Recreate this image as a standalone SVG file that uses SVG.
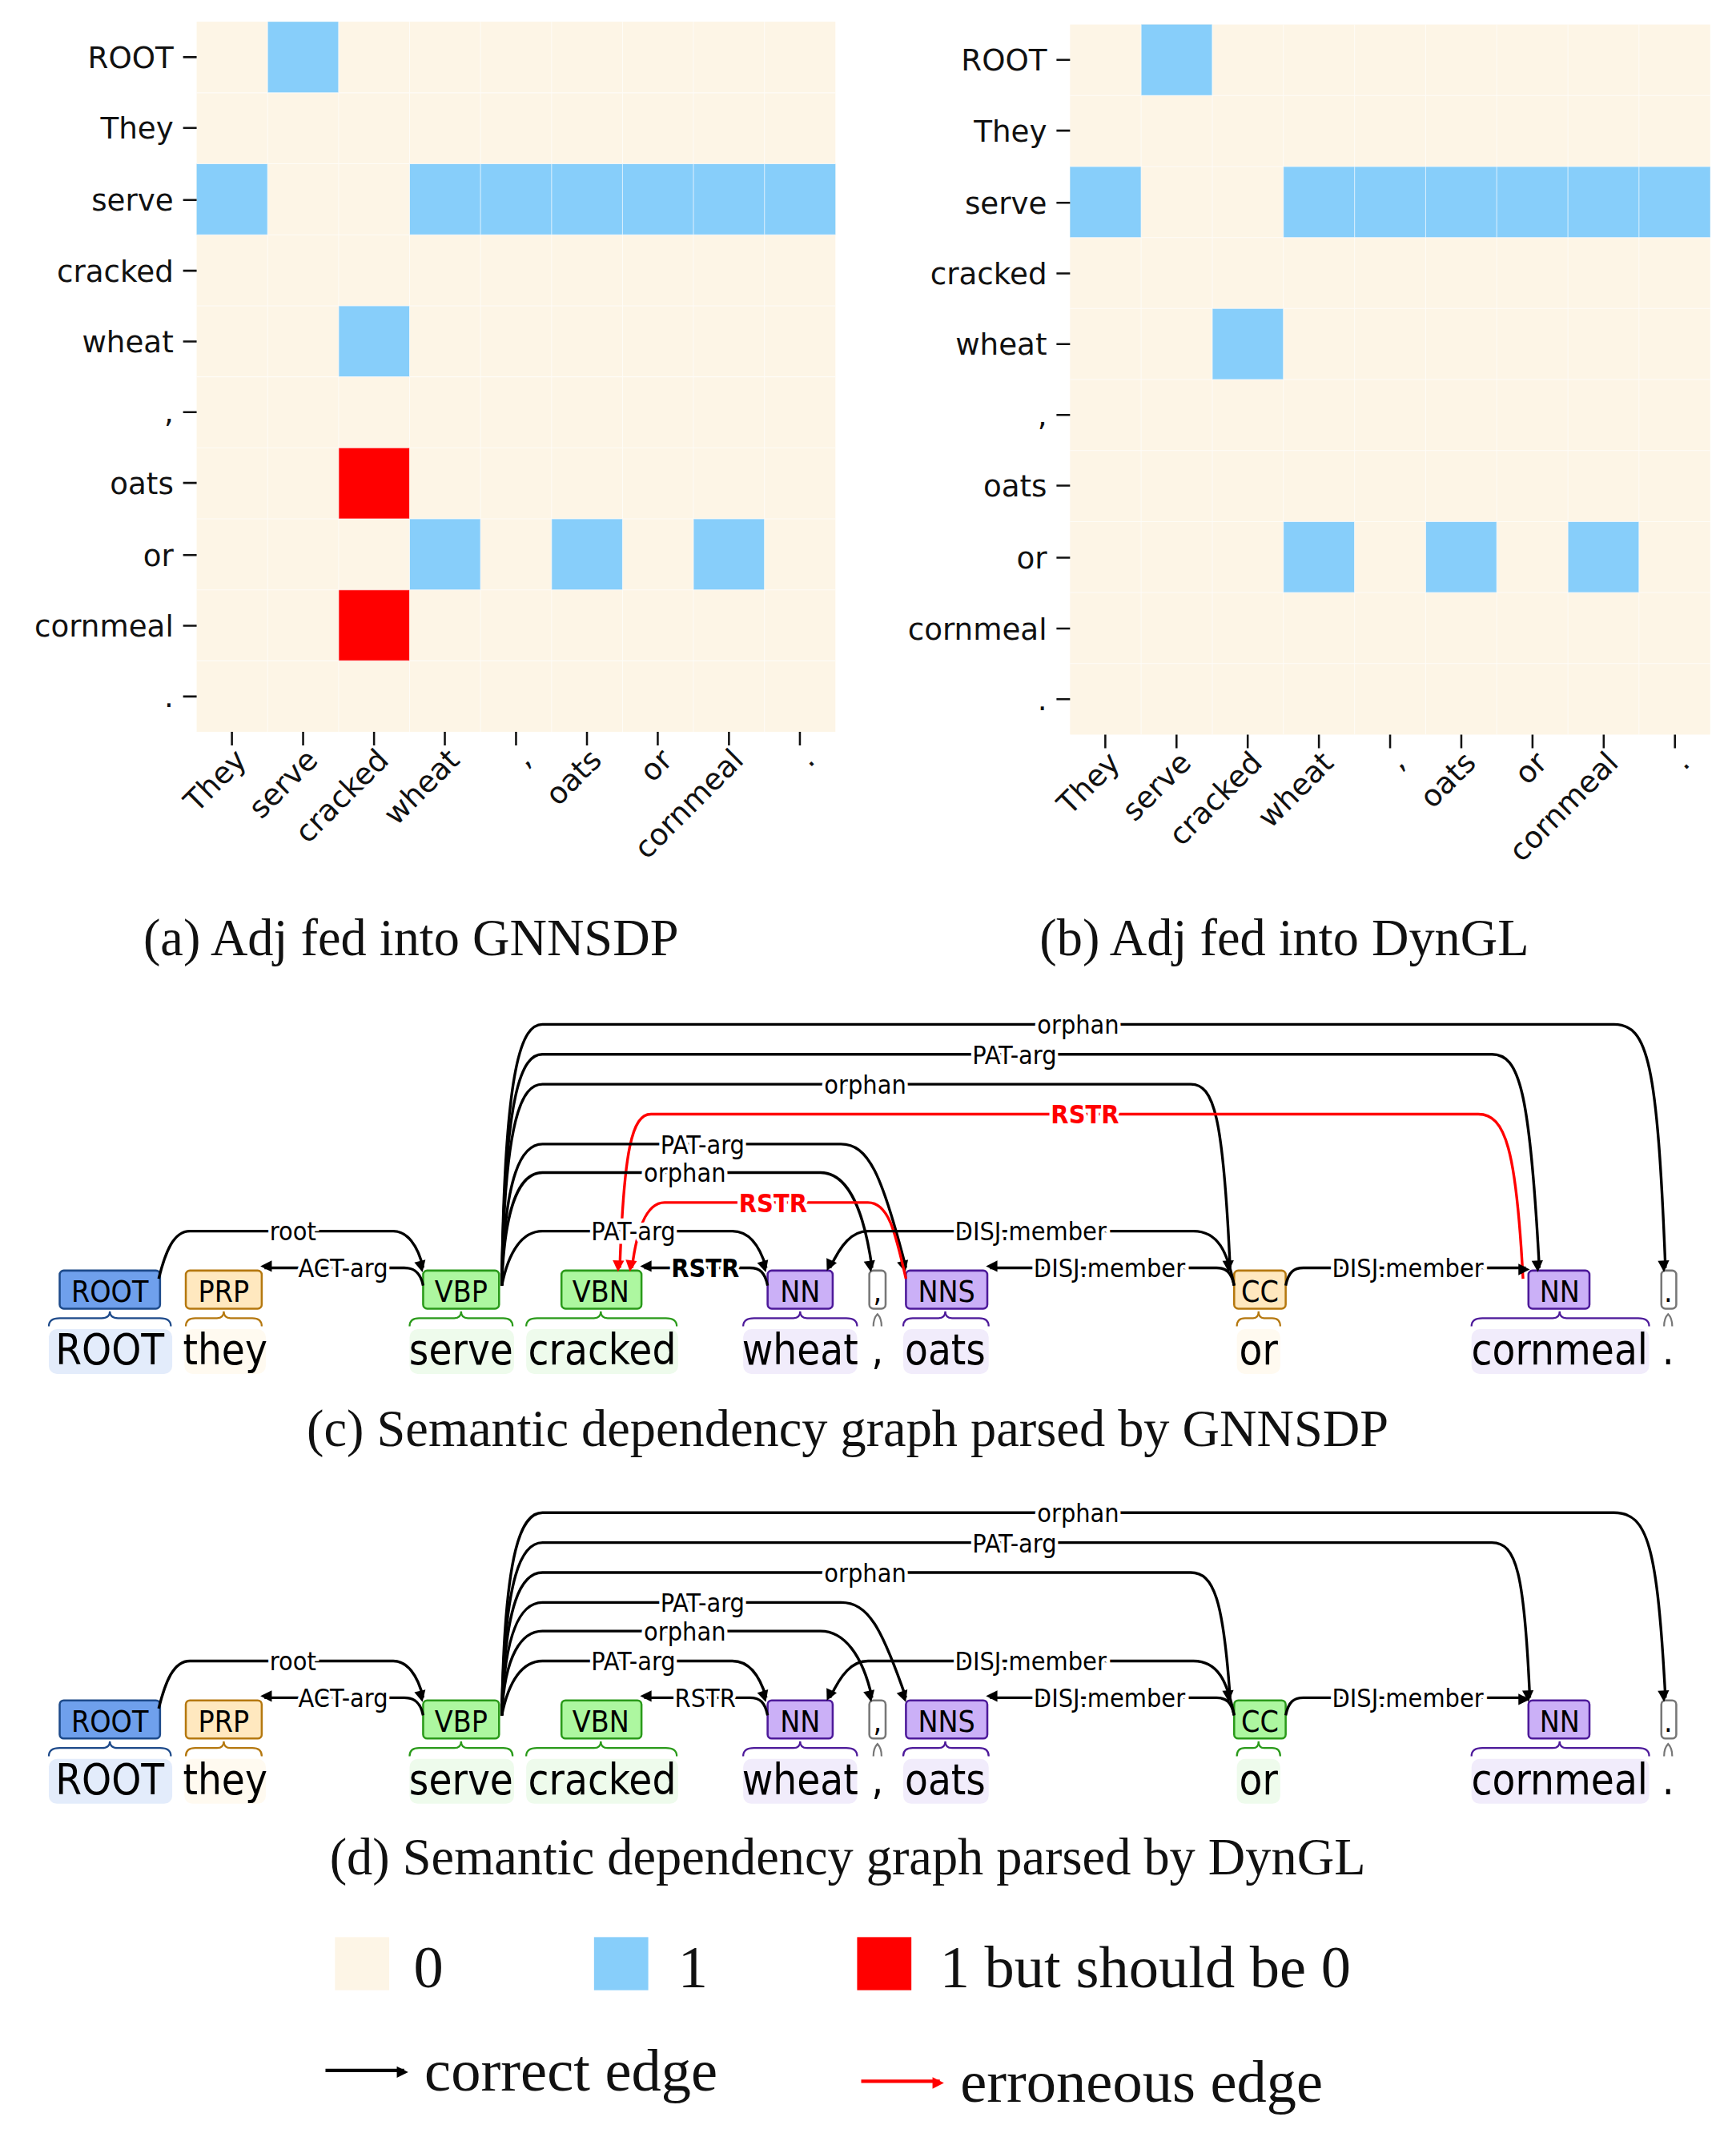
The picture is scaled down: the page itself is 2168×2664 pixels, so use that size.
<svg xmlns="http://www.w3.org/2000/svg" width="2168" height="2664" viewBox="0 0 2168 2664">
<style>
.ax{font-family:"DejaVu Sans",sans-serif;font-size:22px;fill:#111}
.cap{font-family:"Liberation Serif",serif;font-size:38px;fill:#111}
.tag{font-family:"DejaVu Sans Condensed","DejaVu Sans",sans-serif;font-size:22px;text-anchor:middle;fill:#000}
.wd{font-family:"DejaVu Sans Condensed","DejaVu Sans",sans-serif;font-size:31px;text-anchor:middle;fill:#000}
.lb{font-family:"DejaVu Sans Condensed","DejaVu Sans",sans-serif;font-size:19px;text-anchor:middle;fill:#000;stroke:#fff;stroke-width:5px;paint-order:stroke}
.lr{fill:#f00;font-weight:bold}
.lbk{font-weight:bold}
.e{fill:none;stroke:#000;stroke-width:2;marker-end:url(#ab)}
.er{fill:none;stroke:#f00;stroke-width:2;marker-end:url(#ar)}
.bg{fill:#fdf5e6}.b1{fill:#87cefa}.rd{fill:#f00}
.tk{stroke:#111;stroke-width:1.5}
.br{fill:none;stroke-width:1.3}
</style>
<defs>
<marker id="ab" viewBox="0 0 10 10" refX="9" refY="5" markerWidth="6" markerHeight="6" orient="auto" markerUnits="userSpaceOnUse" overflow="visible"><path d="M0,0 L10,5 L0,10 z" fill="#000" transform="scale(1.4)"/></marker>
<marker id="ar" viewBox="0 0 10 10" refX="9" refY="5" markerWidth="6" markerHeight="6" orient="auto" markerUnits="userSpaceOnUse" overflow="visible"><path d="M0,0 L10,5 L0,10 z" fill="#f00" transform="scale(1.4)"/></marker>
</defs>
<rect width="2168" height="2664" fill="#fff"/>
<g transform="scale(1.6937,1.699)">
<!-- heatmap a -->
<g id="heatmap-a">
<rect class="bg" x="145" y="16" width="471" height="522"/>
<rect class="b1" x="197.3" y="16" width="52.3" height="52.2"/>
<rect class="b1" x="145" y="120.4" width="52.3" height="52.2"/>
<rect class="b1" x="302" y="120.4" width="314" height="52.2"/>
<rect class="b1" x="249.7" y="224.8" width="52.3" height="52.2"/>
<rect class="rd" x="249.7" y="329.2" width="52.3" height="52.2"/>
<rect class="b1" x="302" y="381.4" width="52.3" height="52.2"/>
<rect class="b1" x="406.7" y="381.4" width="52.3" height="52.2"/>
<rect class="b1" x="511.3" y="381.4" width="52.3" height="52.2"/>
<rect class="rd" x="249.7" y="433.6" width="52.3" height="52.2"/>
<g stroke="#fff" stroke-width="0.6" opacity="0.7">
<path d="M197.3 16V538M249.7 16V538M302 16V538M354.3 16V538M406.7 16V538M459 16V538M511.3 16V538M563.7 16V538M145 68.2H616M145 120.4H616M145 172.6H616M145 224.8H616M145 277H616M145 329.2H616M145 381.4H616M145 433.6H616M145 485.8H616"/>
</g>
<g class="tk"><path d="M135 42H145M135 94H145M135 147H145M135 199H145M135 251H145M135 303H145M135 355H145M135 408H145M135 460H145M135 512H145"/>
<path d="M171 538V548M223.5 538V548M275.8 538V548M328 538V548M380.5 538V548M432.8 538V548M485 538V548M537.5 538V548M589.8 538V548"/></g>
<g class="ax" text-anchor="end">
<text x="128" y="50">ROOT</text><text x="128" y="102">They</text><text x="128" y="155">serve</text><text x="128" y="207">cracked</text><text x="128" y="259">wheat</text><text x="128" y="311">,</text><text x="128" y="363">oats</text><text x="128" y="416">or</text><text x="128" y="468">cornmeal</text><text x="128" y="520">.</text>
<text transform="translate(183,560) rotate(-45)">They</text>
<text transform="translate(235.5,560) rotate(-45)">serve</text>
<text transform="translate(287.8,560) rotate(-45)">cracked</text>
<text transform="translate(340,560) rotate(-45)">wheat</text>
<text transform="translate(392.5,560) rotate(-45)">,</text>
<text transform="translate(444.8,560) rotate(-45)">oats</text>
<text transform="translate(497,560) rotate(-45)">or</text>
<text transform="translate(549.5,560) rotate(-45)">cornmeal</text>
<text transform="translate(601.8,560) rotate(-45)">.</text>
</g>
<text class="cap" x="303" y="702" text-anchor="middle">(a)  Adj fed into GNNSDP</text>
</g>
<!-- heatmap b -->
<g id="heatmap-b">
<rect class="bg" x="789" y="18" width="472" height="522"/>
<rect class="b1" x="841.4" y="18" width="52.4" height="52.2"/>
<rect class="b1" x="789" y="122.4" width="52.4" height="52.2"/>
<rect class="b1" x="946.3" y="122.4" width="314.7" height="52.2"/>
<rect class="b1" x="893.9" y="226.8" width="52.4" height="52.2"/>
<rect class="b1" x="946.3" y="383.4" width="52.4" height="52.2"/>
<rect class="b1" x="1051.2" y="383.4" width="52.4" height="52.2"/>
<rect class="b1" x="1156.1" y="383.4" width="52.4" height="52.2"/>
<g stroke="#fff" stroke-width="0.6" opacity="0.7">
<path d="M841.4 18V540M893.9 18V540M946.3 18V540M998.8 18V540M1051.2 18V540M1103.6 18V540M1156.1 18V540M1208.5 18V540M789 70.2H1261M789 122.4H1261M789 174.6H1261M789 226.8H1261M789 279H1261M789 331.2H1261M789 383.4H1261M789 435.6H1261M789 487.8H1261"/>
</g>
<g class="tk"><path d="M779 44H789M779 96H789M779 149H789M779 201H789M779 253H789M779 305H789M779 357H789M779 410H789M779 462H789M779 514H789"/>
<path d="M815 540V550M867.5 540V550M920 540V550M972.5 540V550M1025 540V550M1077.5 540V550M1130 540V550M1182.5 540V550M1235 540V550"/></g>
<g class="ax" text-anchor="end">
<text x="772" y="52">ROOT</text><text x="772" y="104">They</text><text x="772" y="157">serve</text><text x="772" y="209">cracked</text><text x="772" y="261">wheat</text><text x="772" y="313">,</text><text x="772" y="365">oats</text><text x="772" y="418">or</text><text x="772" y="470">cornmeal</text><text x="772" y="522">.</text>
<text transform="translate(827,562) rotate(-45)">They</text>
<text transform="translate(879.5,562) rotate(-45)">serve</text>
<text transform="translate(932,562) rotate(-45)">cracked</text>
<text transform="translate(984.5,562) rotate(-45)">wheat</text>
<text transform="translate(1037,562) rotate(-45)">,</text>
<text transform="translate(1089.5,562) rotate(-45)">oats</text>
<text transform="translate(1142,562) rotate(-45)">or</text>
<text transform="translate(1194.5,562) rotate(-45)">cornmeal</text>
<text transform="translate(1247,562) rotate(-45)">.</text>
</g>
<text class="cap" x="947" y="702" text-anchor="middle">(b)  Adj fed into DynGL</text>
</g>

<!-- graph c -->
<g id="graph-c">
<g id="c-tokens">
<rect x="36" y="977" width="91" height="33" rx="6" fill="#e3ecfb"/>
<rect x="136" y="977" width="60" height="33" rx="6" fill="#fffaf0"/>
<rect x="302" y="977" width="77" height="33" rx="6" fill="#eefbec"/>
<rect x="388" y="977" width="112" height="33" rx="6" fill="#eefbec"/>
<rect x="548" y="977" width="84" height="33" rx="6" fill="#f1ecfb"/>
<rect x="666" y="977" width="63" height="33" rx="6" fill="#f1ecfb"/>
<rect x="912" y="977" width="32" height="33" rx="6" fill="#fffaf0"/>
<rect x="1085" y="977" width="131" height="33" rx="6" fill="#f1ecfb"/>
<rect x="44" y="934" width="74" height="28" rx="3" fill="#6fa0ec" stroke="#1d4a8a" stroke-width="1.5"/>
<rect x="137" y="934" width="56" height="28" rx="3" fill="#ffe8bf" stroke="#b5780f" stroke-width="1.5"/>
<rect x="312" y="934" width="56" height="28" rx="3" fill="#adf7a0" stroke="#2a9a1a" stroke-width="1.5"/>
<rect x="414" y="934" width="59" height="28" rx="3" fill="#adf7a0" stroke="#2a9a1a" stroke-width="1.5"/>
<rect x="566" y="934" width="48" height="28" rx="3" fill="#cbb0f7" stroke="#4d1a9a" stroke-width="1.5"/>
<rect x="641" y="934" width="12" height="28" rx="3" fill="#fff" stroke="#777" stroke-width="1.5"/>
<rect x="668" y="934" width="60" height="28" rx="3" fill="#cbb0f7" stroke="#4d1a9a" stroke-width="1.5"/>
<rect x="910" y="934" width="38" height="28" rx="3" fill="#ffe8bf" stroke="#b5780f" stroke-width="1.5"/>
<rect x="1127" y="934" width="45" height="28" rx="3" fill="#cbb0f7" stroke="#4d1a9a" stroke-width="1.5"/>
<rect x="1225" y="934" width="11" height="28" rx="3" fill="#fff" stroke="#777" stroke-width="1.5"/>
<text class="tag" x="81" y="957">ROOT</text><text class="tag" x="165" y="957">PRP</text><text class="tag" x="340" y="957">VBP</text><text class="tag" x="443" y="957">VBN</text><text class="tag" x="590" y="957">NN</text><text class="tag" x="647" y="957">,</text><text class="tag" x="698" y="957">NNS</text><text class="tag" x="929" y="957">CC</text><text class="tag" x="1150" y="957">NN</text><text class="tag" x="1230" y="957">.</text>
<path class="br" stroke="#1d4a8a" d="M36 975 Q36 969 44 969 H75 Q81 969 81 964 Q81 969 87 969 H118 Q126 969 126 975"/>
<path class="br" stroke="#b5780f" d="M137 975 Q137 969 144 969 H160 Q165 969 165 964 Q165 969 170 969 H186 Q193 969 193 975"/>
<path class="br" stroke="#2a9a1a" d="M302 975 Q302 969 309 969 H335 Q340 969 340 964 Q340 969 345 969 H371 Q378 969 378 975"/>
<path class="br" stroke="#2a9a1a" d="M388 975 Q388 969 396 969 H438 Q443 969 443 964 Q443 969 448 969 H491 Q499 969 499 975"/>
<path class="br" stroke="#4d1a9a" d="M548 975 Q548 969 556 969 H585 Q590 969 590 964 Q590 969 595 969 H624 Q632 969 632 975"/>
<path class="br" stroke="#777" d="M644 975 Q644 969 647 966 Q650 969 650 975"/>
<path class="br" stroke="#4d1a9a" d="M666 975 Q666 969 673 969 H692 Q697 969 697 964 Q697 969 702 969 H722 Q729 969 729 975"/>
<path class="br" stroke="#b5780f" d="M912 975 Q912 969 918 969 H924 Q928 969 928 964 Q928 969 932 969 H938 Q944 969 944 975"/>
<path class="br" stroke="#4d1a9a" d="M1085 975 Q1085 969 1093 969 H1145 Q1150 969 1150 964 Q1150 969 1155 969 H1208 Q1216 969 1216 975"/>
<path class="br" stroke="#777" d="M1227 975 Q1227 969 1230 966 Q1233 969 1233 975"/>
<text class="wd" x="81" y="1003">ROOT</text><text class="wd" x="166" y="1003">they</text><text class="wd" x="340" y="1003">serve</text><text class="wd" x="444" y="1003">cracked</text><text class="wd" x="590" y="1003">wheat</text><text class="wd" x="647" y="1003">,</text><text class="wd" x="697" y="1003">oats</text><text class="wd" x="928" y="1003">or</text><text class="wd" x="1150" y="1003">cornmeal</text><text class="wd" x="1230" y="1003">.</text>
</g>
<g id="c-edges">
<path class="e" d="M370 945 C372 780 385 753 400 753 H1190 C1215 753 1222 780 1228 932"/>
<path class="e" d="M370 945 C372 800 385 775 400 775 H1100 C1120 775 1128 800 1135 932"/>
<path class="e" d="M370 945 C372 820 385 797 400 797 H878 C895 797 902 820 907 932"/>
<path class="er" d="M1123 940 C1118 845 1110 819 1090 819 H480 C466 819 460 845 457 932"/>
<path class="e" d="M370 945 C372 862 385 841 400 841 H620 C640 841 650 862 668 932"/>
<path class="e" d="M370 945 C372 882 385 862 400 862 H605 C622 862 636 882 643 932"/>
<path class="er" d="M668 940 C660 905 655 884 640 884 H490 C478 884 470 900 466 932"/>
<path class="e" d="M370 945 C375 920 385 905 400 905 H540 C552 905 560 915 565 932"/>
<path class="e" d="M117 940 C122 920 128 905 140 905 H290 C300 905 308 915 312 932"/>
<path class="e" d="M910 945 C905 920 898 905 880 905 H640 C628 905 620 915 612 932"/>
<path class="e" d="M312 945 C310 935 305 932 298 932 H195"/>
<path class="e" d="M566 945 C564 935 560 932 553 932 H475"/>
<path class="e" d="M910 945 C908 935 904 932 897 932 H730"/>
<path class="e" d="M948 945 C950 935 954 932 961 932 H1125"/>
<text class="lb" x="795" y="760">orphan</text>
<text class="lb" x="748" y="782">PAT-arg</text>
<text class="lb" x="638" y="804">orphan</text>
<text class="lb lr" x="800" y="826">RSTR</text>
<text class="lb" x="518" y="848">PAT-arg</text>
<text class="lb" x="505" y="869">orphan</text>
<text class="lb lr" x="570" y="891">RSTR</text>
<text class="lb" x="467" y="912">PAT-arg</text>
<text class="lb" x="216" y="912">root</text>
<text class="lb" x="760" y="912">DISJ.member</text>
<text class="lb" x="253" y="939">ACT-arg</text>
<text class="lb lbk" x="520" y="939">RSTR</text>
<text class="lb" x="818" y="939">DISJ.member</text>
<text class="lb" x="1038" y="939">DISJ.member</text>
</g>
<text class="cap" x="625" y="1063" text-anchor="middle">(c)  Semantic dependency graph parsed by GNNSDP</text>
</g>

<!-- graph d -->
<g id="graph-d">
<g transform="translate(0,316)">
<g id="d-tokens">
<rect x="36" y="977" width="91" height="33" rx="6" fill="#e3ecfb"/>
<rect x="136" y="977" width="60" height="33" rx="6" fill="#fffaf0"/>
<rect x="302" y="977" width="77" height="33" rx="6" fill="#eefbec"/>
<rect x="388" y="977" width="112" height="33" rx="6" fill="#eefbec"/>
<rect x="548" y="977" width="84" height="33" rx="6" fill="#f1ecfb"/>
<rect x="666" y="977" width="63" height="33" rx="6" fill="#f1ecfb"/>
<rect x="912" y="977" width="32" height="33" rx="6" fill="#eefbec"/>
<rect x="1085" y="977" width="131" height="33" rx="6" fill="#f1ecfb"/>
<rect x="44" y="934" width="74" height="28" rx="3" fill="#6fa0ec" stroke="#1d4a8a" stroke-width="1.5"/>
<rect x="137" y="934" width="56" height="28" rx="3" fill="#ffe8bf" stroke="#b5780f" stroke-width="1.5"/>
<rect x="312" y="934" width="56" height="28" rx="3" fill="#adf7a0" stroke="#2a9a1a" stroke-width="1.5"/>
<rect x="414" y="934" width="59" height="28" rx="3" fill="#adf7a0" stroke="#2a9a1a" stroke-width="1.5"/>
<rect x="566" y="934" width="48" height="28" rx="3" fill="#cbb0f7" stroke="#4d1a9a" stroke-width="1.5"/>
<rect x="641" y="934" width="12" height="28" rx="3" fill="#fff" stroke="#777" stroke-width="1.5"/>
<rect x="668" y="934" width="60" height="28" rx="3" fill="#cbb0f7" stroke="#4d1a9a" stroke-width="1.5"/>
<rect x="910" y="934" width="38" height="28" rx="3" fill="#adf7a0" stroke="#2a9a1a" stroke-width="1.5"/>
<rect x="1127" y="934" width="45" height="28" rx="3" fill="#cbb0f7" stroke="#4d1a9a" stroke-width="1.5"/>
<rect x="1225" y="934" width="11" height="28" rx="3" fill="#fff" stroke="#777" stroke-width="1.5"/>
<text class="tag" x="81" y="957">ROOT</text><text class="tag" x="165" y="957">PRP</text><text class="tag" x="340" y="957">VBP</text><text class="tag" x="443" y="957">VBN</text><text class="tag" x="590" y="957">NN</text><text class="tag" x="647" y="957">,</text><text class="tag" x="698" y="957">NNS</text><text class="tag" x="929" y="957">CC</text><text class="tag" x="1150" y="957">NN</text><text class="tag" x="1230" y="957">.</text>
<path class="br" stroke="#1d4a8a" d="M36 975 Q36 969 44 969 H75 Q81 969 81 964 Q81 969 87 969 H118 Q126 969 126 975"/>
<path class="br" stroke="#b5780f" d="M137 975 Q137 969 144 969 H160 Q165 969 165 964 Q165 969 170 969 H186 Q193 969 193 975"/>
<path class="br" stroke="#2a9a1a" d="M302 975 Q302 969 309 969 H335 Q340 969 340 964 Q340 969 345 969 H371 Q378 969 378 975"/>
<path class="br" stroke="#2a9a1a" d="M388 975 Q388 969 396 969 H438 Q443 969 443 964 Q443 969 448 969 H491 Q499 969 499 975"/>
<path class="br" stroke="#4d1a9a" d="M548 975 Q548 969 556 969 H585 Q590 969 590 964 Q590 969 595 969 H624 Q632 969 632 975"/>
<path class="br" stroke="#777" d="M644 975 Q644 969 647 966 Q650 969 650 975"/>
<path class="br" stroke="#4d1a9a" d="M666 975 Q666 969 673 969 H692 Q697 969 697 964 Q697 969 702 969 H722 Q729 969 729 975"/>
<path class="br" stroke="#2a9a1a" d="M912 975 Q912 969 918 969 H924 Q928 969 928 964 Q928 969 932 969 H938 Q944 969 944 975"/>
<path class="br" stroke="#4d1a9a" d="M1085 975 Q1085 969 1093 969 H1145 Q1150 969 1150 964 Q1150 969 1155 969 H1208 Q1216 969 1216 975"/>
<path class="br" stroke="#777" d="M1227 975 Q1227 969 1230 966 Q1233 969 1233 975"/>
<text class="wd" x="81" y="1003">ROOT</text><text class="wd" x="166" y="1003">they</text><text class="wd" x="340" y="1003">serve</text><text class="wd" x="444" y="1003">cracked</text><text class="wd" x="590" y="1003">wheat</text><text class="wd" x="647" y="1003">,</text><text class="wd" x="697" y="1003">oats</text><text class="wd" x="928" y="1003">or</text><text class="wd" x="1150" y="1003">cornmeal</text><text class="wd" x="1230" y="1003">.</text>
</g>
<g id="d-edges">
<path class="e" d="M370 945 C372 820 385 796 400 796 H1190 C1215 796 1222 820 1228 932"/>
<path class="e" d="M370 945 C372 840 385 818 400 818 H1100 C1118 818 1124 840 1128 932"/>
<path class="e" d="M370 945 C372 860 385 840 400 840 H878 C895 840 902 860 907 932"/>
<path class="e" d="M370 945 C372 880 385 862 400 862 H620 C640 862 650 880 668 932"/>
<path class="e" d="M370 945 C372 900 385 883 400 883 H605 C622 883 636 900 643 932"/>
<path class="e" d="M370 945 C375 920 385 905 400 905 H540 C552 905 560 915 565 932"/>
<path class="e" d="M117 940 C122 920 128 905 140 905 H290 C300 905 308 915 312 932"/>
<path class="e" d="M910 945 C905 920 898 905 880 905 H640 C628 905 620 915 612 932"/>
<path class="e" d="M312 945 C310 935 305 932 298 932 H195"/>
<path class="e" d="M566 945 C564 935 560 932 553 932 H475"/>
<path class="e" d="M910 945 C908 935 904 932 897 932 H730"/>
<path class="e" d="M948 945 C950 935 954 932 961 932 H1125"/>
<text class="lb" x="795" y="803">orphan</text>
<text class="lb" x="748" y="825">PAT-arg</text>
<text class="lb" x="638" y="847">orphan</text>
<text class="lb" x="518" y="869">PAT-arg</text>
<text class="lb" x="505" y="890">orphan</text>
<text class="lb" x="467" y="912">PAT-arg</text>
<text class="lb" x="216" y="912">root</text>
<text class="lb" x="760" y="912">DISJ.member</text>
<text class="lb" x="253" y="939">ACT-arg</text>
<text class="lb" x="520" y="939">RSTR</text>
<text class="lb" x="818" y="939">DISJ.member</text>
<text class="lb" x="1038" y="939">DISJ.member</text>
</g>
</g>
<text class="cap" x="625" y="1378" text-anchor="middle">(d)  Semantic dependency graph parsed by DynGL</text>
</g>

<!-- legend -->
<g id="legend">
<rect x="247" y="1424" width="40" height="39" fill="#fdf5e6"/>
<text class="cap" x="305" y="1461" style="font-size:44px">0</text>
<rect x="438" y="1424" width="40" height="39" fill="#87cefa"/>
<text class="cap" x="500" y="1461" style="font-size:44px">1</text>
<rect x="632" y="1424" width="40" height="39" fill="#f00"/>
<text class="cap" x="693" y="1461" style="font-size:44px">1 but should be 0</text>
<path d="M240 1522 H298" stroke="#000" stroke-width="2.5" marker-end="url(#ab)"/>
<text class="cap" x="313" y="1537" style="font-size:44px">correct edge</text>
<path d="M635 1530 H693" stroke="#f00" stroke-width="2.5" marker-end="url(#ar)"/>
<text class="cap" x="708" y="1545" style="font-size:44px">erroneous edge</text>
</g>
</g>
</svg>
